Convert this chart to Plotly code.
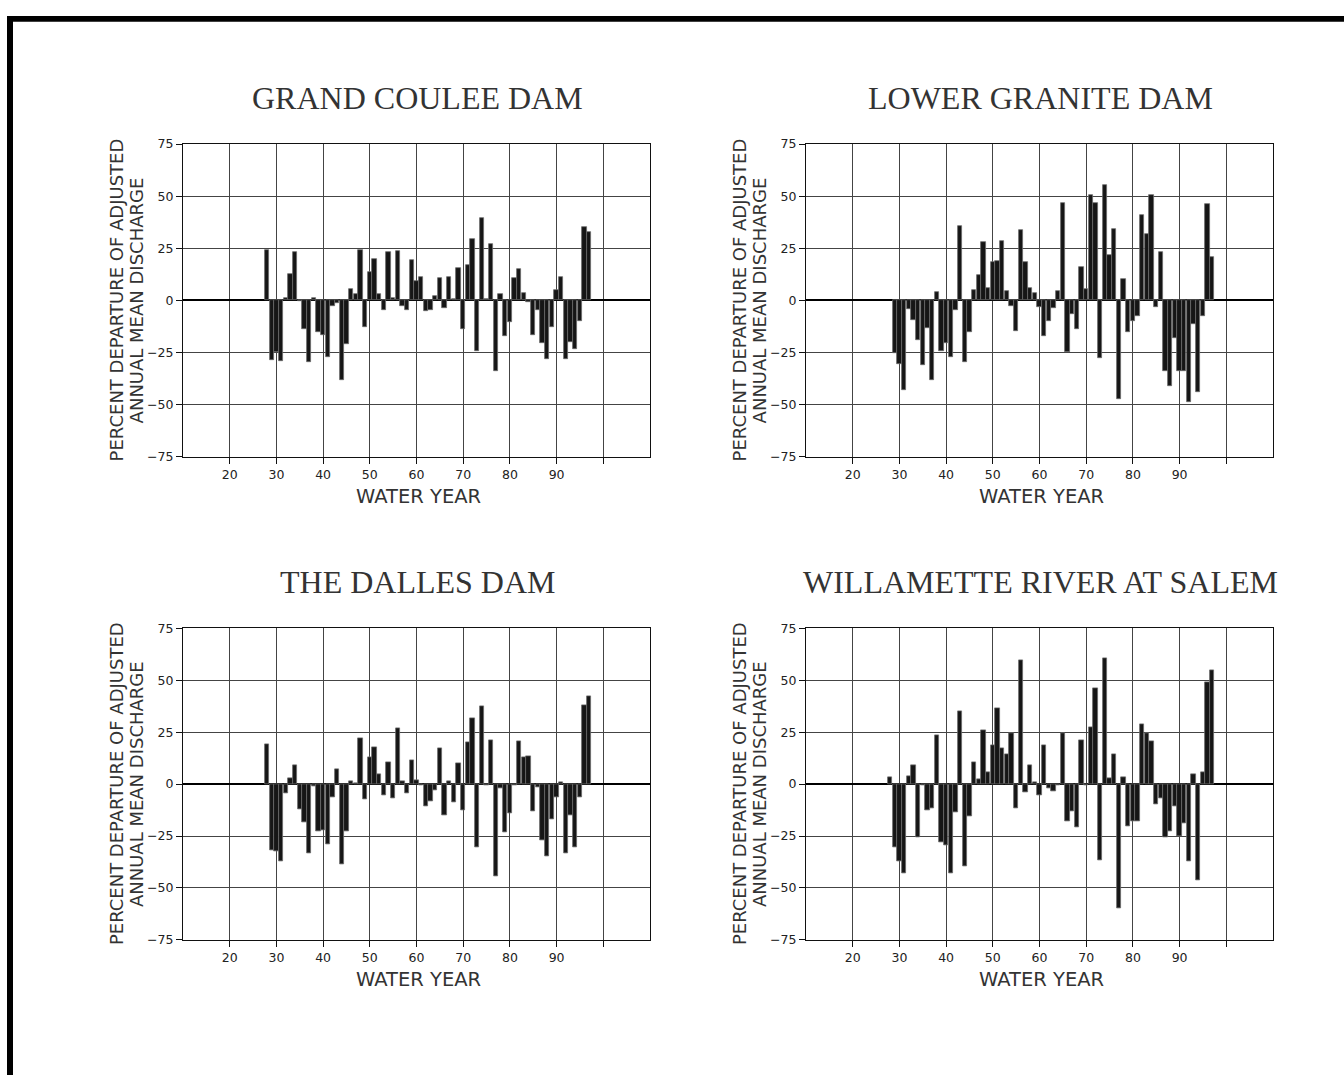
import plotly.graph_objects as go

# ---------------- data ----------------
YEARS_28 = [28, 29, 30, 31, 32, 33, 34, 35, 36, 37, 38, 39, 40, 41, 42, 43, 44, 45, 46, 47,
            48, 49, 50, 51, 52, 53, 54, 55, 56, 57, 58, 59, 60, 61, 62, 63, 64, 65, 66, 67,
            68, 69, 70, 71, 72, 73, 74, 75, 76, 77, 78, 79, 80, 81, 82, 83, 84, 85, 86, 87,
            88, 89, 90, 91, 92, 93, 94, 95, 96, 97]
YEARS_29 = YEARS_28[1:]

GRAND_COULEE = [24, -28.7, -24.7, -29, 1.3, 12.5, 23.3, -0.5, -14, -29.8,
                1.3, -15.2, -16.8, -27, -2.9, -1.5, -38, -20.8, 5.4, 3,
                24, -12.8, 13.8, 19.8, 3.2, -4.8, 23.3, 1, 23.8, -2.9,
                -4.8, 19.2, 9.2, 11.4, -5.2, -4.8, 2, 10.5, -3.8, 11,
                0.5, 15.4, -13.8, 16.8, 29.3, -24.2, 39.5, 0.6, 27.1, -33.8,
                3, -17.1, -10.5, 10.8, 15.2, 3.6, -0.8, -16.8, -4.8, -20.4,
                -28, -12.8, 4.9, 11.1, -28.4, -20.1, -23.3, -10.1, 35, 33]

LOWER_GRANITE = [-25.3, -30.8, -42.9, -4, -9.6, -19, -31, -13.4, -38.2,
                 4.1, -24.2, -20.4, -27.2, -4.7, 35.7, -29.7, -15.1, 4.9, 12,
                 27.8, 6.1, 18.2, 19, 28.3, 4.4, -2.5, -14.8, 33.6, 18.2,
                 6.1, 3.5, -3.3, -17, -9.9, -3.8, 4.4, 46.8, -24.6, -6.8,
                 -13.7, 16.1, 5.5, 50.4, 46.8, -27.5, 55.1, 21.6, 34.3, -47.4,
                 10, -15.2, -10, -7.6, 41, 31.6, 50.7, -3.3, 23, -34.1,
                 -41.2, -17.9, -34.1, -34.1, -49, -11.5, -44, -7.3, 46, 20.9]

THE_DALLES = [19.1, -32, -32.3, -37.3, -4.3, 2.7, 9, -12.2, -18.4, -33.4,
              -1, -22.8, -22.3, -28.8, -6.3, 7.3, -38.6, -22.8, 1.4, 0.5,
              22.2, -7.3, 12.8, 17.6, 4.6, -5.4, 10.6, -7, 26.9, 1.4,
              -4.4, 11.4, 1.7, -0.5, -10.9, -8.2, -3, 17.2, -14.9, 1.3,
              -8.7, 9.8, -12.7, 19.9, 31.8, -30.2, 37.5, -0.6, 20.9, -44.6,
              -1.9, -23.3, -14.1, -0.5, 20.6, 12.8, 13.3, -13.3, -1.6, -27.1,
              -34.8, -16.9, -6.2, 0.8, -33.4, -15.2, -30.4, -6.2, 37.8, 42.1]

WILLAMETTE = [3.2, -30.5, -37.1, -43, 4, 9, -25.6, -0.5, -12.6, -11.5,
              23.7, -27.8, -29.5, -43, -13.7, 35.2, -39.7, -15.3, 10.3, 2.5,
              25.8, 5.8, 18.6, 36.5, 17.2, 14.5, 24.6, -11.8, 59.6, -4.1,
              9.1, 0.9, -5.5, 18.9, -2.2, -3.5, -0.8, 24.5, -17.9, -13.1,
              -21, 21.3, -0.8, 27.3, 46.1, -36.8, 60.8, 3, 14.5, -59.9,
              3.3, -20.2, -17.7, -17.7, 28.8, 24.6, 20.4, -9.5, -6.6, -25.4,
              -22.9, -10.7, -25.3, -19.1, -37.3, 4.9, -46.3, 5.8, 49, 55]

TITLES = ["GRAND COULEE DAM", "LOWER GRANITE DAM", "THE DALLES DAM", "WILLAMETTE RIVER AT SALEM"]
X_TICKS = [20, 30, 40, 50, 60, 70, 80, 90, 100]
X_TICK_TEXT = ["20", "30", "40", "50", "60", "70", "80", "90", ""]
Y_TICKS = [-75, -50, -25, 0, 25, 50, 75]
Y_TITLE_1 = "PERCENT DEPARTURE OF ADJUSTED"
Y_TITLE_2 = "ANNUAL MEAN DISCHARGE"
X_TITLE = "WATER YEAR"

# ---------------- layout helpers ----------------
W, H = 1344, 1082
# panel pixel boxes: (left, right, top, bottom)
BOXES = [(183, 650, 138, 455), (806, 1273, 138, 455),
         (183, 650, 629, 945), (806, 1273, 629, 945)]
SERIES = [(YEARS_28, GRAND_COULEE), (YEARS_29, LOWER_GRANITE),
          (YEARS_28, THE_DALLES), (YEARS_28, WILLAMETTE)]

def px(x):
    return x / W

def py(y):
    return 1 - y / H

fig = go.Figure()
layout = dict(
    width=W, height=H, margin=dict(l=0, r=0, t=0, b=0),
    paper_bgcolor="white", plot_bgcolor="white", showlegend=False,
    bargap=0, font=dict(family="DejaVu Sans", color="#222"),
)
annotations = []
AX_FONT = dict(family="DejaVu Sans", size=12.5, color="#222")
LBL_FONT = dict(family="DejaVu Sans", size=18, color="#333")

for i, ((l, r, t, b), (yrs, vals), title) in enumerate(zip(BOXES, SERIES, TITLES)):
    n = "" if i == 0 else str(i + 1)
    fig.add_trace(go.Bar(
        x=yrs, y=vals, width=0.92,
        marker=dict(color="#161616", line=dict(color="#6a6a6a", width=0.8)),
        xaxis="x" + n, yaxis="y" + n, hoverinfo="x+y",
    ))
    layout["xaxis" + n] = dict(
        domain=[px(l), px(r)], anchor="y" + n, range=[10, 110],
        tickvals=X_TICKS, ticktext=X_TICK_TEXT, ticks="outside", ticklen=6,
        tickcolor="#111", tickwidth=1, showgrid=True, gridcolor="#444", gridwidth=1,
        showline=True, linecolor="#111", linewidth=1, mirror=True,
        zeroline=False, tickfont=AX_FONT, fixedrange=True,
    )
    layout["yaxis" + n] = dict(
        domain=[py(b), py(t)], anchor="x" + n, range=[-75, 75],
        tickvals=Y_TICKS, ticks="outside", ticklen=6, tickcolor="#111", tickwidth=1,
        showgrid=True, gridcolor="#444", gridwidth=1,
        zeroline=True, zerolinecolor="#000", zerolinewidth=1.5,
        showline=True, linecolor="#111", linewidth=1, mirror=True,
        tickfont=AX_FONT, fixedrange=True,
    )
    cx = (l + r) / 2
    cy = (t + b) / 2
    annotations.append(dict(
        text=title, xref="paper", yref="paper", x=px(cx + 1), y=py(t - 47),
        xanchor="center", yanchor="middle", showarrow=False,
        font=dict(family="Liberation Serif", size=32, color="#333"),
    ))
    annotations.append(dict(
        text=Y_TITLE_1, xref="paper", yref="paper", x=px(l - 67), y=py(cy),
        xanchor="center", yanchor="middle", showarrow=False, textangle=-90,
        font=LBL_FONT,
    ))
    annotations.append(dict(
        text=Y_TITLE_2, xref="paper", yref="paper", x=px(l - 47), y=py(cy),
        xanchor="center", yanchor="middle", showarrow=False, textangle=-90,
        font=LBL_FONT,
    ))
    annotations.append(dict(
        text=X_TITLE, xref="paper", yref="paper", x=px(cx + 2), y=py(b + 40),
        xanchor="center", yanchor="middle", showarrow=False,
        font=dict(family="DejaVu Sans", size=19.5, color="#333"),
    ))

layout["annotations"] = annotations
layout["shapes"] = [
    dict(type="rect", xref="paper", yref="paper", x0=px(7), x1=1.0, y0=py(14), y1=py(8),
         fillcolor="black", line=dict(width=0)),
    dict(type="rect", xref="paper", yref="paper", x0=px(7), x1=px(13), y0=0, y1=py(8),
         fillcolor="black", line=dict(width=0)),
]
fig.update_layout(**layout)
fig.write_html(
    "out.html",
    config={"displayModeBar": False},
    post_script="document.body.style.margin='0px';document.body.style.padding='0px';",
)
